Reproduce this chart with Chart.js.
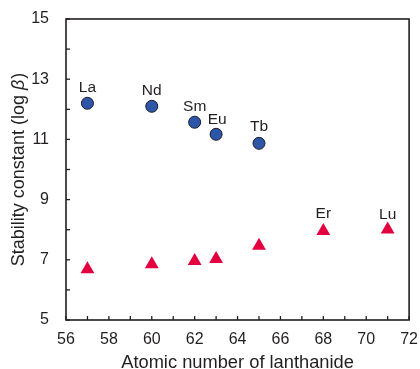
<!DOCTYPE html>
<html>
<head>
<meta charset="utf-8">
<script src="https://cdn.jsdelivr.net/npm/chart.js@4/dist/chart.umd.min.js"></script>
<style>
html,body{margin:0;padding:0;background:#fff;}
#wrap{width:420px;height:369px;position:relative;}
</style>
</head>
<body>
<div id="wrap"><canvas id="c" width="420" height="369"></canvas></div>
<script>
// Data
const circleZ = [57, 60, 62, 63, 65];
const circleLogB = [12.2, 12.1, 11.57, 11.17, 10.87];
const circleLabels = ["La", "Nd", "Sm", "Eu", "Tb"];

const triZ = [57, 60, 62, 63, 65, 68, 71];
const triLogB = [6.69, 6.85, 6.96, 7.03, 7.47, 7.96, 8.01];
const triLabels = ["", "", "", "", "", "Er", "Lu"];

const xTickLabels = [56, 58, 60, 62, 64, 66, 68, 70, 72];
const yTickLabels = [5, 7, 9, 11, 13, 15];

const xTitle = "Atomic number of lanthanide";
const yTitleMain = "Stability constant (log ";
const yTitleSym = "\u03B2";
const yTitleEnd = ")";

const FONT = "'Liberation Sans', Arial, Helvetica, sans-serif";

const framePlugin = {
  id: 'frame',
  afterDatasetsDraw(chart) {
    const ctx = chart.ctx;
    const a = chart.chartArea;
    const xs = chart.scales.x, ys = chart.scales.y;
    ctx.save();
    ctx.strokeStyle = '#231f20';
    ctx.lineWidth = 1.6;
    ctx.strokeRect(a.left, a.top, a.right - a.left, a.bottom - a.top);
    ctx.lineWidth = 1.3;
    for (let v = xs.min; v <= xs.max; v++) {
      const px = xs.getPixelForValue(v);
      ctx.beginPath();
      ctx.moveTo(px, a.bottom);
      ctx.lineTo(px, a.bottom - 4);
      ctx.stroke();
    }
    for (let v = ys.min; v <= ys.max; v++) {
      const py = ys.getPixelForValue(v);
      ctx.beginPath();
      ctx.moveTo(a.left, py);
      ctx.lineTo(a.left + 4, py);
      ctx.stroke();
    }
    ctx.fillStyle = '#231f20';
    ctx.font = '15.5px ' + FONT;
    ctx.textAlign = 'center';
    ctx.textBaseline = 'middle';
    const drawLabels = (dsIndex, labels, offsets) => {
      const meta = chart.getDatasetMeta(dsIndex);
      meta.data.forEach((el, i) => {
        if (!labels[i]) return;
        const o = offsets[i] || [0, -16];
        ctx.fillText(labels[i], el.x + o[0], el.y + o[1]);
      });
    };
    drawLabels(0, circleLabels, [[0,-16],[0,-16],[0,-16],[1,-15],[0,-17]]);
    drawLabels(1, triLabels, [null,null,null,null,null,[0,-17],[0,-15]]);
    ctx.font = '18.3px ' + FONT;
    ctx.textBaseline = 'middle';
    ctx.fillText(xTitle, (a.left + a.right) / 2 + 0, 363);
    ctx.save();
    ctx.translate(19, (a.top + a.bottom) / 2);
    ctx.rotate(-Math.PI / 2);
    const fN = '18px ' + FONT, fI = 'italic 18px ' + FONT;
    ctx.font = fN; const w1 = ctx.measureText(yTitleMain).width;
    const w3 = ctx.measureText(yTitleEnd).width;
    ctx.font = fI; const w2 = ctx.measureText(yTitleSym).width + 1;
    const total = w1 + w2 + w3;
    let x0 = -total / 2;
    ctx.textAlign = 'left';
    ctx.font = fN; ctx.fillText(yTitleMain, x0, 0);
    ctx.font = fI; ctx.fillText(yTitleSym, x0 + w1, 0);
    ctx.font = fN; ctx.fillText(yTitleEnd, x0 + w1 + w2, 0);
    ctx.restore();
    ctx.restore();
  }
};

new Chart(document.getElementById('c'), {
  type: 'scatter',
  data: {
    datasets: [
      {
        label: 'circles',
        data: circleZ.map((x, i) => ({x: x, y: circleLogB[i]})),
        pointStyle: 'circle',
        pointRadius: 6,
        pointHoverRadius: 6,
        backgroundColor: '#2d56a8',
        borderColor: '#1a1a2e',
        borderWidth: 1
      },
      {
        label: 'triangles',
        data: triZ.map((x, i) => ({x: x, y: triLogB[i]})),
        pointStyle: 'triangle',
        pointRadius: 8,
        pointHoverRadius: 8,
        backgroundColor: '#e3003f',
        borderColor: '#e3003f',
        borderWidth: 0
      }
    ]
  },
  options: {
    responsive: false,
    animation: false,
    events: [],
    layout: { padding: { left: 0, right: 8, top: 19, bottom: 0 } },
    plugins: { legend: { display: false }, tooltip: { enabled: false } },
    scales: {
      x: {
        type: 'linear', min: 56, max: 72,
        grid: { display: false }, border: { display: false },
        afterFit(s) { s.height = 49; },
        afterBuildTicks(s) { s.ticks = xTickLabels.map(v => ({value: v})); },
        ticks: { padding: 2, color: '#231f20', font: { family: FONT, size: 16 }, maxRotation: 0, autoSkip: false }
      },
      y: {
        type: 'linear', min: 5, max: 15,
        grid: { display: false }, border: { display: false },
        afterFit(s) { s.width = 66; },
        afterBuildTicks(s) { s.ticks = yTickLabels.map(v => ({value: v})); },
        ticks: { padding: 9, color: '#231f20', font: { family: FONT, size: 16 } }
      }
    }
  },
  plugins: [framePlugin]
});
</script>
</body>
</html>
